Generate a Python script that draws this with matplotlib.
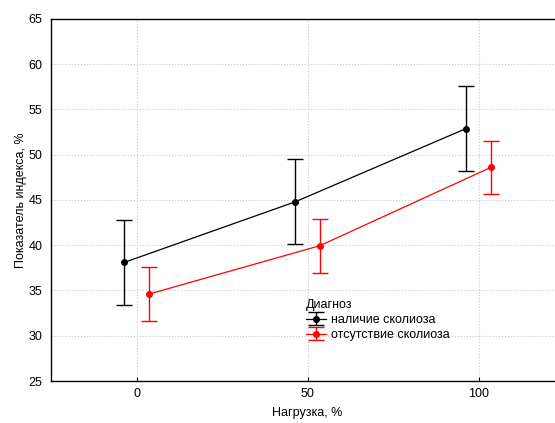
import matplotlib.pyplot as plt

OUTPUT_PATH = "out.png"

loads = [0, 50, 100]
shift = 3.6

scoliosis_mean = [38.1, 44.8, 52.9]
scoliosis_err = [4.7, 4.7, 4.7]

healthy_mean = [34.6, 39.95, 48.6]
healthy_err = [2.95, 3.0, 2.95]

labels = ["наличие сколиоза", "отсутствие сколиоза"]
xticks = [0, 50, 100]
yticks = [25, 30, 35, 40, 45, 50, 55, 60, 65]


def main():
    plt.rcParams["font.family"] = ["Liberation Sans", "DejaVu Sans"]
    fig = plt.figure(figsize=(5.55, 4.23), dpi=100)
    ax = fig.add_axes([51 / 555, 42 / 423, 513 / 555, 362 / 423])

    x_black = [x - shift for x in loads]
    x_red = [x + shift for x in loads]

    ax.errorbar(x_black, scoliosis_mean, yerr=scoliosis_err, color="black",
                marker="o", markersize=4, linewidth=0.9, elinewidth=1,
                capsize=6, capthick=1, label=labels[0])
    ax.errorbar(x_red, healthy_mean, yerr=healthy_err, color="red",
                marker="o", markersize=4, linewidth=0.9, elinewidth=1,
                capsize=6, capthick=1, label=labels[1])

    ax.set_xlim(-25, 125)
    ax.set_ylim(25, 65)
    ax.set_xticks(xticks)
    ax.set_yticks(yticks)
    ax.grid(True, color="#c8c8c8", linestyle=":", linewidth=0.8)
    ax.set_axisbelow(True)
    ax.tick_params(direction="in", length=3, labelsize=9, colors="black")
    ax.tick_params(axis="y", length=0, pad=6)
    ax.tick_params(axis="x", pad=5)
    for s in ax.spines.values():
        s.set_linewidth(1)

    ax.set_xlabel("Нагрузка, %", fontsize=9, labelpad=5)
    ax.set_ylabel("Показатель индекса, %", fontsize=9, labelpad=1)

    ax.legend(title="Диагноз", loc="upper left",
              bbox_to_anchor=(297 / 555, 1 - 290 / 423),
              bbox_transform=fig.transFigure, frameon=False,
              fontsize=9, title_fontsize=9, handlelength=1.6,
              handletextpad=0.4, labelspacing=0.25, borderpad=0.2,
              alignment="left")

    fig.savefig(OUTPUT_PATH, dpi=100)
    plt.close(fig)


if __name__ == "__main__":
    main()
